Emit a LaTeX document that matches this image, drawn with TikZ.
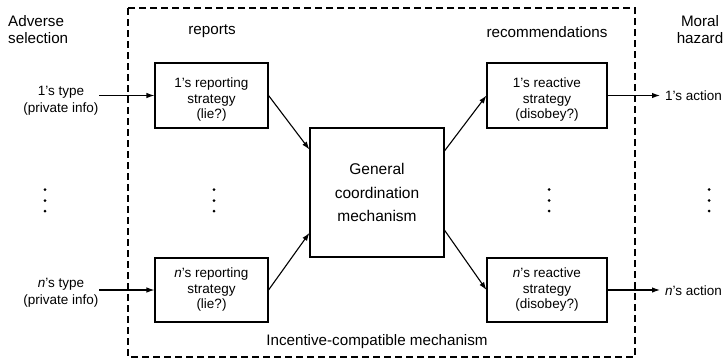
\documentclass[tikz,border=0pt]{standalone}
\usepackage{fontspec}
\setmainfont{Liberation Sans}
\usetikzlibrary{arrows.meta,calc}
\newcommand{\boxfont}{\fontsize{13.5}{15.5}\selectfont}
\newcommand{\labfont}{\fontsize{13.5}{17.5}\selectfont}
\newcommand{\headfont}{\fontsize{15.2}{17}\selectfont}
\newcommand{\midfont}{\fontsize{15.5}{23.5}\selectfont}
\newcommand{\dropline}{\rule{0pt}{18pt}}
\begin{document}
\begin{tikzpicture}[x=1pt,y=-1pt,
  stratbox/.style={draw,line width=1.1pt,inner sep=0pt,align=center,font=\boxfont},
  lab/.style={inner sep=0pt,align=center,font=\labfont},
  head/.style={inner sep=0pt,align=center,font=\headfont},
  arr/.style={line width=1.1pt,-{Latex[length=8pt,width=5.5pt]}},
  frame/.style={line width=1.1pt,dash pattern=on 7pt off 4pt},
  vdot/.style={fill,circle,inner sep=0pt,minimum size=3pt}]
\useasboundingbox (0,0) rectangle (728,359);
% frame
\draw[frame] (128,8) rectangle (635,357);
% boxes
\node[stratbox,minimum width=113pt,minimum height=65pt] (r1) at (211.5,95.5) {\dropline1’s reporting\\strategy\\(lie?)};
\node[stratbox,minimum width=113pt,minimum height=64pt] (rn) at (211.5,290) {\textit{n}’s reporting\\strategy\\(lie?)};
\node[stratbox,minimum width=134pt,minimum height=129pt,font=\midfont] (gc) at (377,192.5) {General\\coordination\\mechanism};
\node[stratbox,minimum width=120pt,minimum height=65pt] (a1) at (547,95.5) {\dropline1’s reactive\\strategy\\(disobey?)};
\node[stratbox,minimum width=120pt,minimum height=64pt] (an) at (547,290) {\textit{n}’s reactive\\strategy\\(disobey?)};
% headings
\node[head,align=left,anchor=west] (adv) at (8,30) {Adverse\\selection};
\node[head] (rep) at (212,31) {reports};
\node[head] (rec) at (547,32) {recommendations};
\node[head] (mor) at (700,30) {Moral\\hazard};
% side labels
\node[lab] (t1) at (61,101) {1’s type\\(private info)};
\node[lab] (tn) at (61,293) {\textit{n}’s type\\(private info)};
\node[lab,anchor=west] (c1) at (665,96) {1’s action};
\node[lab,anchor=west] (cn) at (665,291) {\textit{n}’s action};
\node[head] (icm) at (377,342) {Incentive-compatible mechanism};
% arrows
\coordinate (s1) at (99,95.5);
\coordinate (sn) at (99,290);
\coordinate (e1) at (660,95.5);
\coordinate (en) at (660,290);
\draw[arr] (s1) -- (r1.west);
\draw[arr] (sn) -- (rn.west);
\draw[arr] (r1.east) -- ($(gc.north west)!0.17!(gc.south west)$);
\draw[arr] (rn.east) -- ($(gc.north west)!0.81!(gc.south west)$);
\draw[arr] ($(gc.north east)!0.18!(gc.south east)$) -- (a1.west);
\draw[arr] ($(gc.north east)!0.79!(gc.south east)$) -- (an.west);
\draw[arr] (a1.east) -- (e1);
\draw[arr] (an.east) -- (en);
% vertical dots
\foreach \xx/\nm in {45/l,214/m,549/r,709/f}{
  \node[vdot] (\nm1) at (\xx,189.5) {};
  \node[vdot] (\nm2) at (\xx,200.5) {};
  \node[vdot] (\nm3) at (\xx,211) {};
}
\end{tikzpicture}
\end{document}
